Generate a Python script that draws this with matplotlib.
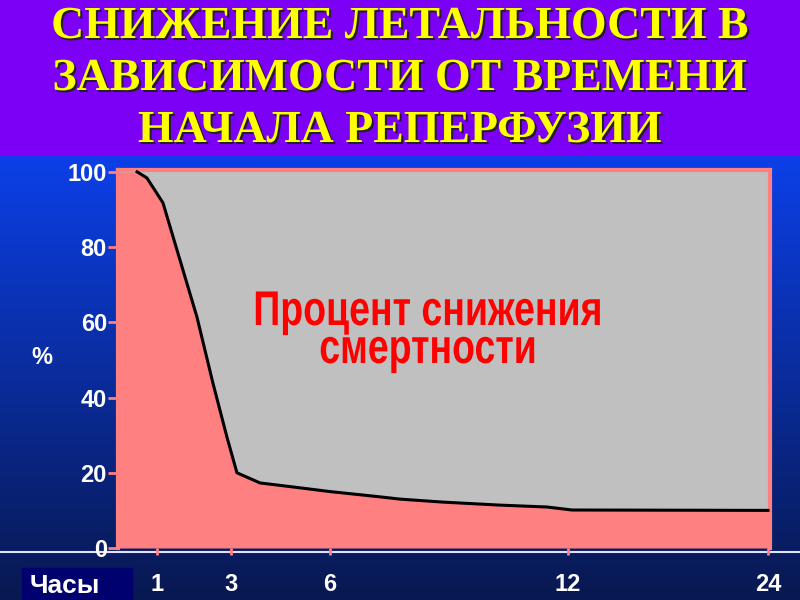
import numpy as np
import matplotlib
matplotlib.use("Agg")
import matplotlib.pyplot as plt
import matplotlib.patheffects as pe
from matplotlib.colors import to_rgba
from matplotlib.patches import Rectangle
from matplotlib.transforms import Affine2D

# data
hours = [0, 0.49, 0.74, 1.16, 1.62, 2.08, 2.51, 2.89, 3.18, 3.88, 5.09, 6.0,
         7.26, 7.76, 8.85, 10.29, 11.47, 12.24, 24]
mortality_drop = [100, 100, 98.4, 91.8, 76.6, 61.4, 43.9, 29.5, 20, 17.3, 16, 15,
                  13.6, 13, 12.2, 11.4, 10.9, 10.1, 10]
tick_hours = [1, 3, 6, 12, 24]
y_ticks = [0, 20, 40, 60, 80, 100]

title_lines = ["СНИЖЕНИЕ ЛЕТАЛЬНОСТИ В", "ЗАВИСИМОСТИ ОТ ВРЕМЕНИ", "НАЧАЛА РЕПЕРФУЗИИ"]
label_lines = ["Процент снижения", "смертности"]

# uneven hour axis of the slide
ref_hours = [0, 1, 3, 6, 12, 24]
ref_pos = [0, 39, 113, 212, 450, 650]


def to_pos(h):
    return np.interp(h, ref_hours, ref_pos)


class Stretch(pe.AbstractPathEffect):
    # scale glyphs around a point (display pixels), optional shifted copy in another colour
    def __init__(self, sx=1.0, sy=1.0, origin=(0, 0), shift=(0, 0), color=None):
        super().__init__()
        self.sx, self.sy = sx, sy
        self.origin = origin
        self.shift = shift
        self.color = to_rgba(color) if color is not None else None

    def draw_path(self, renderer, gc, tpath, affine, rgbFace=None):
        ox, oy = self.origin
        t = affine + Affine2D().translate(-ox, -oy).scale(self.sx, self.sy).translate(
            ox + self.shift[0], oy + self.shift[1])
        face = self.color if self.color is not None else rgbFace
        renderer.draw_path(gc, tpath, t, face)


W, H = 800, 600
PINK = "#ff8080"
GRAY = "#c0c0c0"

fig = plt.figure(figsize=(8, 6), dpi=100)

# blue gradient background
bg = fig.add_axes([0, 0, 1, 1])
grad = np.linspace(0, 1, 256).reshape(-1, 1)
top_c = np.array([0x0c, 0x40, 0xea]) / 255
bot_c = np.array([0x08, 0x18, 0x50]) / 255
img = bot_c[None, None, :] * (1 - grad[..., None]) + top_c[None, None, :] * grad[..., None]
bg.imshow(img, aspect="auto", origin="lower", extent=[0, 1, 0, 1 - 150 / H])
bg.set_xlim(0, 1)
bg.set_ylim(0, 1)
bg.axis("off")

# purple title band
bg.add_patch(Rectangle((0, 1 - 155 / H), 1, 155 / H, color="#7b00f5", zorder=2))
for line, base in zip(title_lines, [38, 90, 142]):
    bg.text(0.5, 1 - base / H, line, ha="center", va="baseline", fontsize=33,
            fontweight="bold", family="Liberation Serif", color="#ffff00", zorder=3,
            path_effects=[Stretch(shift=(2, -2), color="#202020"), pe.Normal()])

# white baseline across the slide
bg.axhline(1 - 552 / H, color="#e0e0ff", lw=1.5, zorder=2)

# box behind "Часы"
bg.add_patch(Rectangle((22 / W, 0), 110 / W, 32 / H, color="#00006e", zorder=2))
bg.text(65 / W, 1 - 593 / H, "Часы", ha="center", va="baseline", fontsize=19,
        fontweight="bold", family="Liberation Sans", color="white", zorder=3)
bg.text(42 / W, 1 - 358 / H, "%", ha="center", va="center", fontsize=17,
        fontweight="bold", family="Liberation Sans", color="white", zorder=3)

ax = fig.add_axes([118 / W, 52 / H, 652 / W, 378 / H])
ax.set_facecolor(GRAY)
x = to_pos(hours)
ax.fill_between(x, 0, mortality_drop, color=PINK, lw=0, zorder=1)
ax.plot(x[1:], mortality_drop[1:], color="black", lw=2.2, zorder=3)
ax.set_xlim(0, 652)
ax.set_ylim(0, 100.5)

for side in ["top", "right", "left"]:
    ax.spines[side].set_color(PINK)
    ax.spines[side].set_linewidth(3)
ax.spines["bottom"].set_visible(False)

ax.set_yticks(y_ticks)
ax.set_xticks(to_pos(tick_hours))
ax.set_xticklabels([str(h) for h in tick_hours])
ax.tick_params(axis="y", colors=PINK, length=7, width=2, pad=1, labelcolor="white", labelsize=17)
ax.tick_params(axis="x", colors=PINK, length=5, width=2, pad=13, labelcolor="white", labelsize=17)
for t in ax.get_xticklabels() + ax.get_yticklabels():
    t.set_fontweight("bold")
    t.set_family("Liberation Sans")

# red caption, drawn a bit taller than the font as on the slide
for line, base in zip(label_lines, [325, 363]):
    ax.text(428 / W, 1 - base / H, line, transform=fig.transFigure, ha="center",
            va="baseline", fontsize=27, fontweight="bold", family="Liberation Sans",
            color="#ff0000", zorder=4,
            path_effects=[Stretch(sy=1.3, origin=(428, H - base))])

fig.savefig("out.png", dpi=100)
